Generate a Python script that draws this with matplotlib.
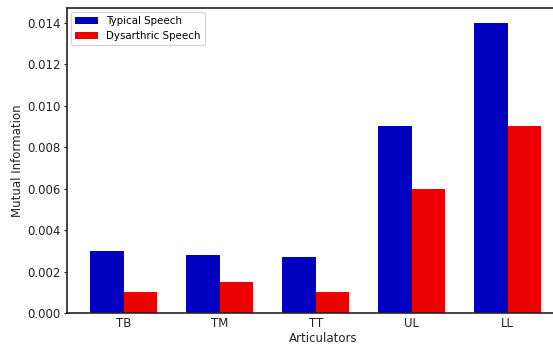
import matplotlib
matplotlib.use("Agg")
import matplotlib.pyplot as plt
import numpy as np

categories = ["TB", "TM", "TT", "UL", "LL"]
typical = [0.0030, 0.0028, 0.0027, 0.0090, 0.0140]
dysarthric = [0.0010, 0.0015, 0.0010, 0.0060, 0.0090]

fig = plt.figure(figsize=(5.53, 3.45), dpi=100)
ax = fig.add_axes([67/553, 32/345, 513/553, 305/345])
x = np.arange(len(categories))
w = 0.35
ax.bar(x - w/2, typical, w, color="#0000c0", label="Typical Speech")
ax.bar(x + w/2, dysarthric, w, color="#ee0000", label="Dysarthric Speech")
ax.set_xticks(x)
ax.set_xticklabels(categories)
ax.set_xlim(-0.59, -0.59 + 513/96)
ax.set_ylim(0, 0.0147)
ticks = np.arange(0, 0.0141, 0.002)
ax.set_yticks(ticks)
ax.set_yticklabels([f"{v:.3f}" for v in ticks])
ax.tick_params(direction="out", labelsize=8.5, colors="#222222", length=2.5, pad=2)
ax.tick_params(axis="x", length=0, pad=3)
ax.set_xlabel("Articulators", fontsize=8.5, color="#222222", labelpad=1)
ax.set_ylabel("Mutual Information", fontsize=8.5, color="#222222", labelpad=2)
ax.legend(loc="upper left", fontsize=7.4, frameon=True, handlelength=2.2,
          borderaxespad=0.4)
for s in ax.spines.values():
    s.set_linewidth(1.2)
    s.set_color("#222222")
ax.spines["right"].set_visible(False)
fig.savefig("out.png", dpi=100)
